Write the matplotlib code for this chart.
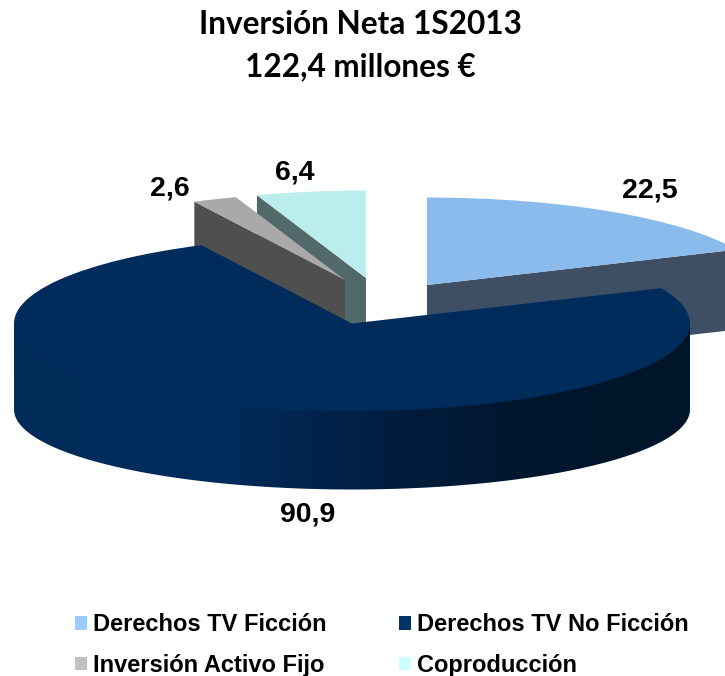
import numpy as np
import matplotlib
matplotlib.use("Agg")
import matplotlib.pyplot as plt
from matplotlib.patches import Patch, Polygon, PathPatch
from matplotlib.path import Path
from matplotlib.transforms import Affine2D
from matplotlib.colors import LinearSegmentedColormap

# ---- data ----
categories = ["Derechos TV Ficción", "Derechos TV No Ficción",
              "Inversión Activo Fijo", "Coproducción"]
values = [22.5, 90.9, 2.6, 6.4]
title_lines = ["Inversión Neta 1S2013", "122,4 millones €"]

# ---- style ----
legend_colors = ["#99ccff", "#003366", "#c0c0c0", "#ccffff"]
top_colors = ["#8bbbec", "#002c5c", "#a9a9a9", "#bbeded"]
wall_colors = ["#3e4f65", None, "#4f4f4f", "#52696a"]
centers = [(427, 285), (352, 323.5), (345, 280), (366, 278)]
label_pos = [(650, 190), (308, 514), (170, 189), (295, 172)]
RX, RY, DEPTH = 338, 87.5, 80
W, H = 725, 676

fig = plt.figure(figsize=(W / 100, H / 100), dpi=100, facecolor="white")
ax = fig.add_axes([0, 0, 1, 1])

wedges, _ = ax.pie(values, startangle=90, counterclock=False, colors=top_colors,
                   wedgeprops=dict(linewidth=0))
ax.set_aspect("auto")
ax.set_xlim(0, W)
ax.set_ylim(H, 0)
ax.axis("off")

fracs = np.cumsum([0] + values) / sum(values) * 2 * np.pi   # clockwise from 12 o'clock


def edge(i, a):
    cx, cy = centers[i]
    return np.array([cx + RX * np.sin(a), cy - RY * np.cos(a)])


# slice z-order: blue, cyan, gray, navy
order = {0: 1, 3: 3, 2: 5, 1: 8}
for i, w in enumerate(wedges):
    cx, cy = centers[i]
    w.set_transform(Affine2D().scale(RX, -RY).translate(cx, cy) + ax.transData)
    w.set_zorder(order[i] + 1)

# flat side walls, cut along one radial edge of each exploded slice
wall_edges = {0: fracs[1], 2: fracs[2], 3: fracs[3]}
for i, a in wall_edges.items():
    tip = np.array(centers[i], dtype=float)
    e = edge(i, a)
    d = np.array([0, DEPTH])
    ax.add_patch(Polygon([tip, e, e + d, tip + d], closed=True, facecolor=wall_colors[i],
                         edgecolor="none", zorder=order[i]))

# curved outer wall of the main slice, with horizontal shading
th = np.linspace(np.pi / 2, 3 * np.pi / 2, 200)
cx, cy = centers[1]
top_arc = np.c_[cx + RX * np.sin(th), cy - 3 - RY * np.cos(th)]
bot_arc = np.c_[cx + RX * np.sin(th), cy + 86 - 80 * np.cos(th)][::-1]
verts = np.vstack([top_arc, bot_arc, top_arc[:1]])
clip = PathPatch(Path(verts), transform=ax.transData, facecolor="none", edgecolor="none")
ax.add_patch(clip)
shade = LinearSegmentedColormap.from_list("wall", [
    (0.0, "#002b59"), (0.30, "#002c5c"), (0.58, "#001c3c"),
    (0.80, "#00152c"), (1.0, "#001629")])
im = ax.imshow(np.linspace(0, 1, 256)[None, :], cmap=shade, aspect="auto",
               extent=(cx - RX, cx + RX, 500, 300), zorder=8, interpolation="bilinear")
im.set_clip_path(clip)
ax.set_xlim(0, W)
ax.set_ylim(H, 0)

for v, (x, y) in zip(values, label_pos):
    ax.text(x, y, f"{v:.1f}".replace(".", ","), ha="center", va="center",
            family="Liberation Sans", weight="bold", fontsize=20.5, color="black", zorder=12)

ax.text(360, 25, title_lines[0], ha="center", va="center", family="Lato", weight="bold",
        fontsize=22.7, color="black")
ax.text(360, 67, title_lines[1], ha="center", va="center", family="Lato", weight="bold",
        fontsize=22.7, color="black")

handles = [Patch(facecolor=c, edgecolor="none", label=n)
           for c, n in zip(legend_colors, categories)]
leg = ax.legend(handles=[handles[0], handles[2], handles[1], handles[3]],
                labels=[categories[0], categories[2], categories[1], categories[3]],
                ncol=2, frameon=False, loc="upper left", bbox_to_anchor=(75 / W, 1 - 613 / H),
                borderaxespad=0, borderpad=0,
                prop=dict(family="Liberation Sans", weight="bold", size=17),
                handlelength=0.52, handleheight=0.52, handletextpad=0.25,
                labelspacing=0.76, columnspacing=3.05)

fig.savefig("out.png", dpi=100)
